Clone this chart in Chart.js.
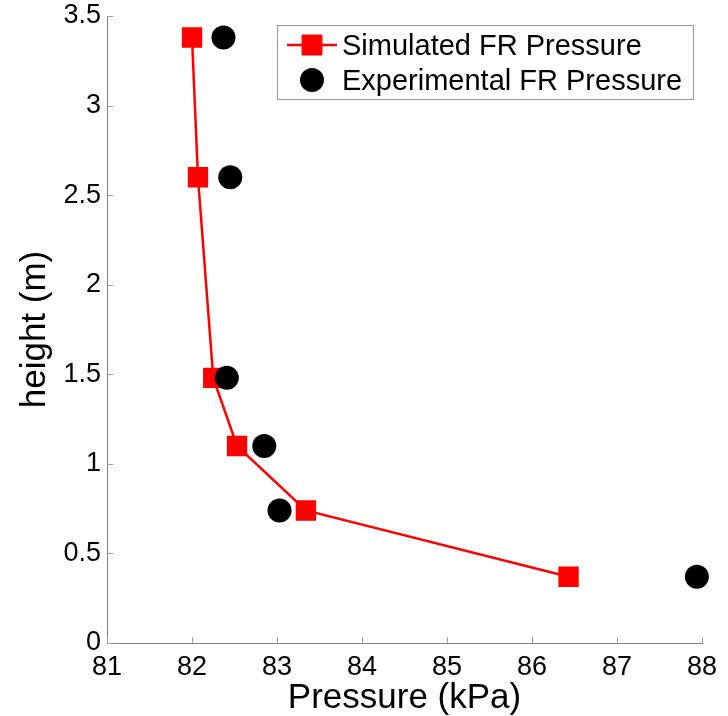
<!DOCTYPE html>
<html>
<head>
<meta charset="utf-8">
<script src="https://cdn.jsdelivr.net/npm/chart.js@4"></script>
<style>
  html, body { margin: 0; padding: 0; background: #ffffff; }
  #wrap { width: 728px; height: 716px; }
</style>
</head>
<body>
<div id="wrap"><canvas id="chart" width="728" height="716"></canvas></div>
<script>
// Pressure profile along the height: simulated vs. experimental
const simPressure = [82.0, 82.07, 82.25, 82.53, 83.34, 86.43];
const simHeight   = [3.38, 2.60, 1.48, 1.10, 0.74, 0.37];
const expPressure = [82.37, 82.45, 82.41, 82.85, 83.03, 87.94];
const expHeight   = [3.38, 2.60, 1.48, 1.10, 0.74, 0.37];

const xTicks = [81, 82, 83, 84, 85, 86, 87, 88];
const xTickLabels = ['81', '82', '83', '84', '85', '86', '87', '88'];
const yTicks = [0, 0.5, 1, 1.5, 2, 2.5, 3, 3.5];
const yTickLabels = ['0', '0.5', '1', '1.5', '2', '2.5', '3', '3.5'];

const FONT = "'Liberation Sans', Arial, sans-serif";
const AXIS_GREY = '#808080';

const toPoints = (xs, ys) => xs.map((x, i) => ({ x: x, y: ys[i] }));

// Short tick marks pointing into the plot area
const inwardTicks = {
  id: 'inwardTicks',
  afterDatasetsDraw(chart) {
    const { ctx, chartArea, scales } = chart;
    const len = 6;
    ctx.save();
    ctx.strokeStyle = '#a0a0a0';
    ctx.lineWidth = 1;
    ctx.beginPath();
    scales.x.ticks.forEach(t => {
      const px = Math.round(scales.x.getPixelForValue(t.value)) + 0.5;
      ctx.moveTo(px, chartArea.bottom);
      ctx.lineTo(px, chartArea.bottom - len);
    });
    scales.y.ticks.forEach(t => {
      const py = Math.round(scales.y.getPixelForValue(t.value)) + 0.5;
      ctx.moveTo(chartArea.left, py);
      ctx.lineTo(chartArea.left + len, py);
    });
    ctx.stroke();
    ctx.restore();
  }
};

// Boxed legend in the upper right corner, line + marker symbols
const boxedLegend = {
  id: 'boxedLegend',
  afterDraw(chart) {
    const { ctx, chartArea } = chart;
    const box = { right: chartArea.right - 9, top: chartArea.top + 9, width: 416, height: 74 };
    const left = box.right - box.width;
    ctx.save();
    ctx.fillStyle = '#ffffff';
    ctx.fillRect(left, box.top, box.width, box.height);
    ctx.strokeStyle = '#999999';
    ctx.lineWidth = 1;
    ctx.strokeRect(Math.round(left) + 0.5, Math.round(box.top) + 0.5, box.width, box.height);

    const symX = left + 35;
    const textX = left + 65;
    const rows = [box.top + 20, box.top + 55];
    const sets = chart.data.datasets;
    ctx.font = '29px ' + FONT;
    ctx.textBaseline = 'alphabetic';
    ctx.textAlign = 'left';
    sets.slice().sort((a, b) => a.legendRank - b.legendRank).forEach((ds, i) => {
      const cy = rows[i];
      if (ds.showLine) {
        ctx.strokeStyle = ds.borderColor;
        ctx.lineWidth = ds.borderWidth;
        ctx.beginPath();
        ctx.moveTo(symX - 25, cy);
        ctx.lineTo(symX + 25, cy);
        ctx.stroke();
      }
      ctx.fillStyle = ds.pointBackgroundColor;
      ctx.strokeStyle = ds.pointBorderColor;
      ctx.lineJoin = 'round';
      Chart.helpers.drawPoint(ctx, {
        pointStyle: ds.pointStyle,
        radius: ds.pointRadius,
        borderWidth: ds.pointBorderWidth,
        rotation: 0
      }, symX, cy);
      ctx.fillStyle = '#000000';
      ctx.fillText(ds.label, textX, cy + 10);
    });
    ctx.restore();
  }
};

new Chart(document.getElementById('chart'), {
  type: 'scatter',
  data: {
    datasets: [
      {
        label: 'Simulated FR Pressure',
        legendRank: 0,
        order: 2,
        data: toPoints(simPressure, simHeight),
        showLine: true,
        borderColor: '#ff0000',
        borderWidth: 2.5,
        pointStyle: 'rect',
        pointRadius: 13,
        pointHoverRadius: 13,
        pointBorderWidth: 2,
        pointBackgroundColor: '#ff0000',
        pointBorderColor: '#ff0000',
        clip: false
      },
      {
        label: 'Experimental FR Pressure',
        legendRank: 1,
        order: 1,
        data: toPoints(expPressure, expHeight),
        showLine: false,
        pointStyle: 'circle',
        pointRadius: 12,
        pointHoverRadius: 12,
        pointBorderWidth: 0,
        pointBackgroundColor: '#000000',
        pointBorderColor: '#000000',
        clip: false
      }
    ]
  },
  options: {
    responsive: false,
    animation: false,
    devicePixelRatio: 1,
    layout: { padding: { top: 16, right: 26, left: 0, bottom: 0 } },
    elements: { point: { borderJoinStyle: 'round' } },
    plugins: {
      legend: { display: false },
      tooltip: { enabled: false }
    },
    scales: {
      x: {
        type: 'linear',
        min: 81,
        max: 88,
        afterBuildTicks: s => { s.ticks = xTicks.map(v => ({ value: v })); },
        afterFit: s => { s.height = 73; s.paddingLeft = 0; s.paddingRight = 0; },
        grid: { display: false, drawTicks: false },
        border: { display: true, color: AXIS_GREY, width: 1 },
        ticks: {
          color: '#000000',
          padding: 8,
          font: { family: FONT, size: 27 },
          maxRotation: 0,
          autoSkip: false,
          callback: (value, index) => xTickLabels[index]
        },
        title: {
          display: true,
          text: 'Pressure (kPa)',
          color: '#000000',
          font: { family: FONT, size: 35, lineHeight: 1 },
          padding: { top: 0, bottom: 0 }
        }
      },
      y: {
        type: 'linear',
        min: 0,
        max: 3.5,
        afterBuildTicks: s => { s.ticks = yTicks.map(v => ({ value: v })); },
        afterFit: s => { s.width = 107; s.paddingTop = 0; s.paddingBottom = 0; },
        grid: { display: false, drawTicks: false },
        border: { display: true, color: AXIS_GREY, width: 1 },
        ticks: {
          color: '#000000',
          padding: 6,
          font: { family: FONT, size: 27 },
          autoSkip: false,
          callback: (value, index) => yTickLabels[index]
        },
        title: {
          display: true,
          text: 'height (m)',
          color: '#000000',
          font: { family: FONT, size: 35, lineHeight: 1 },
          padding: { top: 18, bottom: 0 }
        }
      }
    }
  },
  plugins: [inwardTicks, boxedLegend]
});
</script>
</body>
</html>
